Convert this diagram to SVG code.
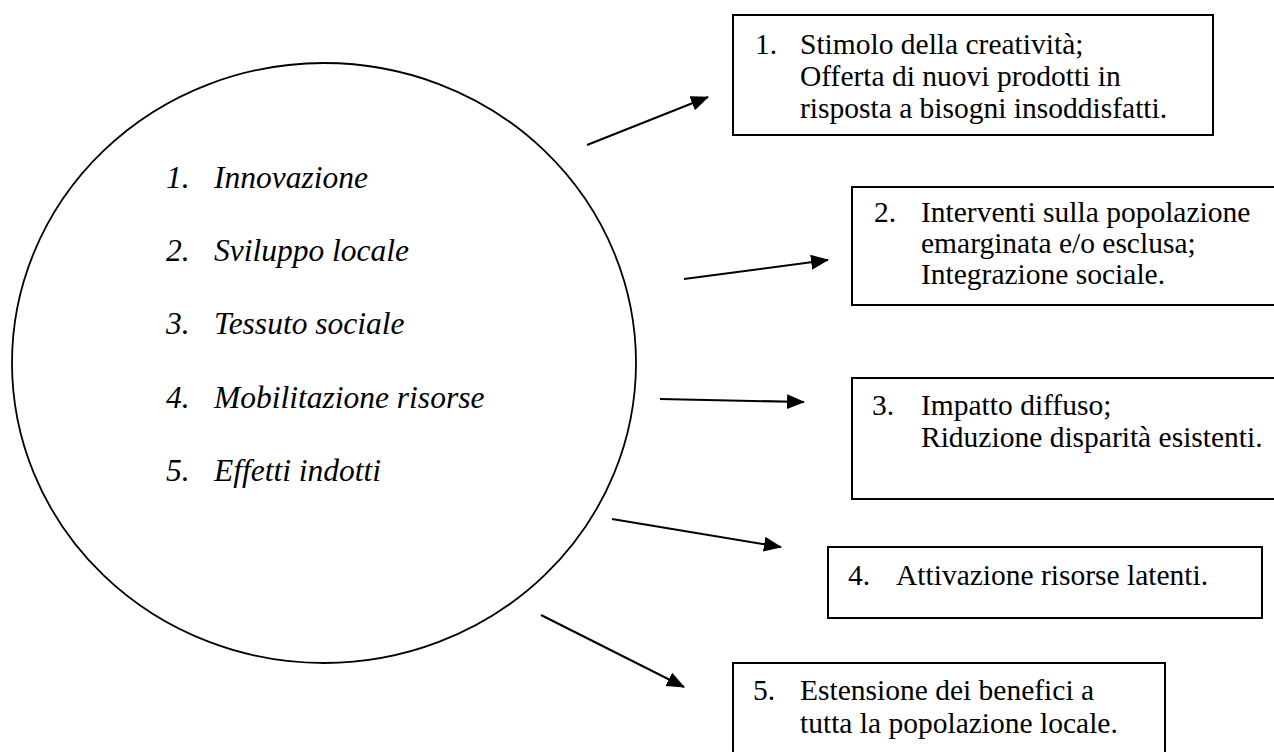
<svg xmlns="http://www.w3.org/2000/svg" width="1274" height="752" viewBox="0 0 1274 752">
<style>
.box{fill:#fff;stroke:#000;stroke-width:2}
.bt{font-family:"Liberation Serif","Times New Roman",serif;font-size:29.5px;fill:#000}
.ct{font-family:"Liberation Serif","Times New Roman",serif;font-size:31.5px;font-style:italic;fill:#000}
.circ{fill:none;stroke:#000;stroke-width:1.8}
#connectors line{stroke:#000;stroke-width:2}
</style>
<defs>
<marker id="ah" markerUnits="userSpaceOnUse" markerWidth="20" markerHeight="18" refX="17" refY="7.5" orient="auto">
<path d="M0,0 L18,7.5 L0,15 z" fill="#000"/>
</marker>
</defs>
<rect width="1274" height="752" fill="#fff"/>
<g id="center">
<ellipse class="circ" cx="324" cy="363" rx="312" ry="300"/>
<text class="ct" x="166" y="188">1.</text><text class="ct" x="214" y="188">Innovazione</text>
<text class="ct" x="166" y="261">2.</text><text class="ct" x="214" y="261">Sviluppo locale</text>
<text class="ct" x="166" y="334">3.</text><text class="ct" x="214" y="334">Tessuto sociale</text>
<text class="ct" x="166" y="408">4.</text><text class="ct" x="214" y="408">Mobilitazione risorse</text>
<text class="ct" x="166" y="481">5.</text><text class="ct" x="214" y="481">Effetti indotti</text>
</g>
<g id="connectors">
<line x1="587" y1="145" x2="708" y2="97" marker-end="url(#ah)"/>
<line x1="684" y1="279" x2="828" y2="260" marker-end="url(#ah)"/>
<line x1="660" y1="399" x2="804" y2="402" marker-end="url(#ah)"/>
<line x1="612" y1="519" x2="781" y2="547" marker-end="url(#ah)"/>
<line x1="541" y1="615" x2="684" y2="687" marker-end="url(#ah)"/>
</g>
<g id="box1">
<rect class="box" x="733" y="15" width="480" height="120"/>
<text class="bt" x="755" y="54">1.</text>
<text class="bt" x="800" y="54">Stimolo della creatività;</text>
<text class="bt" x="800" y="86">Offerta di nuovi prodotti in</text>
<text class="bt" x="800" y="118">risposta a bisogni insoddisfatti.</text>
</g>
<g id="box2">
<rect class="box" x="852" y="187" width="440" height="118"/>
<text class="bt" x="874" y="222">2.</text>
<text class="bt" x="921" y="222">Interventi sulla popolazione</text>
<text class="bt" x="921" y="253">emarginata e/o esclusa;</text>
<text class="bt" x="921" y="284">Integrazione sociale.</text>
</g>
<g id="box3">
<rect class="box" x="852" y="378" width="440" height="121"/>
<text class="bt" x="872" y="415">3.</text>
<text class="bt" x="921" y="415">Impatto diffuso;</text>
<text class="bt" x="921" y="447">Riduzione disparità esistenti.</text>
</g>
<g id="box4">
<rect class="box" x="828" y="547" width="434" height="71"/>
<text class="bt" x="848" y="585">4.</text>
<text class="bt" x="896" y="585">Attivazione risorse latenti.</text>
</g>
<g id="box5">
<rect class="box" x="733" y="663" width="432" height="120"/>
<text class="bt" x="753" y="700">5.</text>
<text class="bt" x="800" y="700">Estensione dei benefici a</text>
<text class="bt" x="800" y="733">tutta la popolazione locale.</text>
</g>
</svg>
